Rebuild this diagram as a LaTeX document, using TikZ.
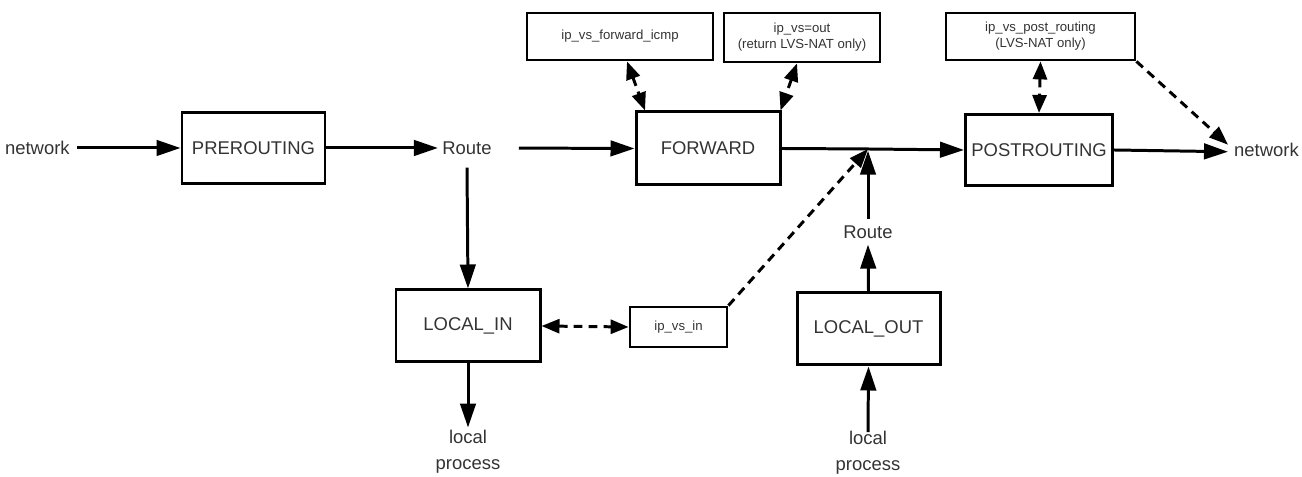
\documentclass[tikz,border=0pt]{standalone}
\usepackage{fontspec}
\setmainfont{Liberation Sans}
\usetikzlibrary{arrows.meta,positioning}

\begin{document}
\begin{tikzpicture}[
    hook/.style={draw, line width=1.7pt, minimum width=2.86cm, minimum height=1.42cm,
        text=black!80, font=\fontsize{10.5}{12}\selectfont},
    lvsbox/.style={draw, line width=1.6pt, align=center, minimum height=0.94cm,
        text=black!80, font=\fontsize{7.5}{9}\selectfont},
    word/.style={text=black!80, align=center, font=\fontsize{10.5}{15}\selectfont},
    flow/.style={line width=1.7pt, -{Triangle[length=4.8mm,width=3.1mm]}},
    lvsflow/.style={line width=1.7pt, dash pattern=on 5pt off 3.5pt,
        {Triangle[length=3.6mm,width=2.8mm]}-{Triangle[length=3.6mm,width=2.8mm]}},
    lvsone/.style={line width=1.7pt, dash pattern=on 5pt off 3.5pt,
        -{Triangle[length=3.8mm,width=2.8mm]}}
]
\useasboundingbox (0,0) rectangle (26.04,9.54);

% Netfilter hooks
\node[hook] (pre)  at (5.07,6.58)  {PREROUTING};
\node[hook, minimum width=2.88cm, minimum height=1.46cm] (fwd) at (14.16,6.57) {FORWARD};
\node[hook, minimum width=2.84cm] (post) at (20.78,6.54) {POSTROUTING};
\node[hook, minimum width=2.88cm, minimum height=1.44cm] (lin)  at (9.36,3.02)  {LOCAL\_IN};
\node[hook, minimum width=2.86cm, minimum height=1.44cm] (lout) at (17.37,2.96) {LOCAL\_OUT};

% IPVS functions
\node[lvsbox, minimum width=3.72cm] (icmp) at (12.40,8.81) {ip\_vs\_forward\_icmp};
\node[lvsbox, minimum width=3.12cm, minimum height=0.98cm] (vsout) at (16.04,8.79)
    {ip\_vs=out\\(return LVS-NAT only)};
\node[lvsbox, minimum width=3.78cm] (vspost) at (20.81,8.81)
    {ip\_vs\_post\_routing\\(LVS-NAT only)};
\node[lvsbox, minimum width=1.94cm, minimum height=0.8cm] (vsin) at (13.57,3.00) {ip\_vs\_in};

% Plain labels
\node[word, anchor=east, inner xsep=0pt] (netin) at (1.40,6.58) {network};
\node[word] (route)  at (9.34,6.58)  {Route};
\node[word, anchor=west] (netout) at (24.56,6.54) {network};
\node[word] (route2) at (17.36,4.90) {Route};
\node[word] (lproc)  at (9.36,0.50)  {local\\process};
\node[word] (lproc2) at (17.36,0.48) {local\\process};
\coordinate (join) at (17.36,6.56);

% Connections
\draw[flow, shorten <=0.14cm] (netin.east) -- (pre.west);
\draw[flow] (pre.east) -- ([xshift=1pt]route.west);
\draw[flow, shorten <=0.42cm] (route.east) -- (fwd.west);
\draw[flow] (fwd.east) -- (join) -- (post.west);
\draw[flow] (post.east) -- ([yshift=-1pt]netout.west);
\draw[flow] ([yshift=-4pt]route.south) -- (lin.north);
\draw[flow] (lin.south) -- ([yshift=-2pt]lproc.north);
\draw[flow] ([yshift=-4pt]lproc2.north) -- (lout.south);
\draw[flow] (lout.north) -- (route2.south);
\draw[flow] (route2.north) -- ([yshift=-1pt]join);

\draw[lvsflow] ([xshift=0.14cm]icmp.south) -- ([xshift=-1.26cm]fwd.north);
\draw[lvsflow] ([xshift=-0.1cm]vsout.south) -- ([xshift=-0.02cm]fwd.north east);
\draw[lvsflow] (vspost.south) -- (post.north);
\draw[lvsflow] (lin.east) -- (vsin.west);
\draw[lvsone] (vsin.north east) -- (join);
\draw[lvsone] (vspost.south east) -- ([yshift=3pt]netout.west);

\end{tikzpicture}
\end{document}
